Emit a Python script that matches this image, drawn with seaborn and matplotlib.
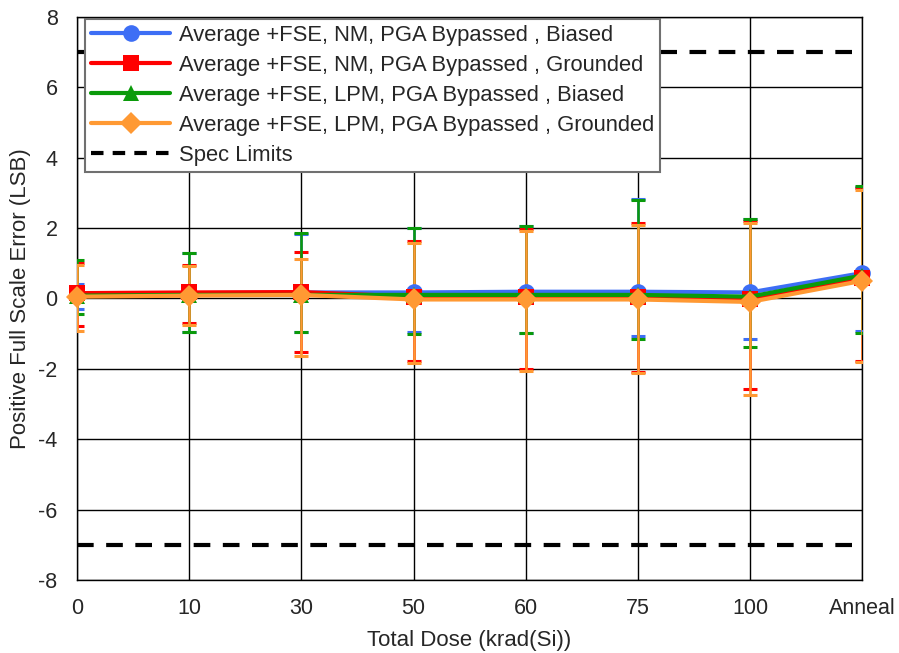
import matplotlib
matplotlib.use("Agg")
import matplotlib.pyplot as plt
import seaborn as sns
import numpy as np
import pandas as pd
from matplotlib.lines import Line2D

categories = ["0", "10", "30", "50", "60", "75", "100", "Anneal"]
series_names = [
    "Average +FSE, NM, PGA Bypassed , Biased",
    "Average +FSE, NM, PGA Bypassed , Grounded",
    "Average +FSE, LPM, PGA Bypassed , Biased",
    "Average +FSE, LPM, PGA Bypassed , Grounded",
]
blue_mean = [0.12, 0.15, 0.17, 0.17, 0.19, 0.19, 0.17, 0.72]
red_mean = [0.15, 0.17, 0.18, 0.05, 0.05, 0.05, -0.02, 0.58]
green_mean = [0.08, 0.10, 0.10, 0.10, 0.10, 0.10, 0.05, 0.65]
orange_mean = [0.05, 0.08, 0.10, -0.03, -0.03, -0.03, -0.10, 0.50]

blue_max = [0.40, 1.30, 1.83, 1.99, 2.05, 2.82, 2.27, 3.18]
red_max = [1.00, 0.95, 1.31, 1.63, 1.97, 2.13, 2.20, 3.13]
green_max = [1.09, 1.28, 1.85, 1.99, 2.07, 2.80, 2.25, 3.20]
orange_max = [0.95, 0.93, 1.13, 1.58, 1.92, 2.09, 2.14, 3.08]

blue_min = [-0.31, -0.96, -0.96, -0.96, -0.97, -1.06, -1.15, -0.94]
red_min = [-0.78, -0.70, -1.53, -1.78, -2.01, -2.08, -2.57, -1.79]
green_min = [-0.44, -0.96, -0.96, -1.02, -0.97, -1.15, -1.37, -0.97]
orange_min = [-0.92, -0.75, -1.65, -1.84, -2.05, -2.13, -2.74, -1.82]

spec_limits = [7, -7]
y_ticks = [-8, -6, -4, -2, 0, 2, 4, 6, 8]

colors = ["#3d6ef5", "#ff0000", "#0a9a0a", "#ff9933"]
markers = ["o", "s", "^", "D"]
marker_sizes = [12, 12, 12, 11]

means = [blue_mean, red_mean, green_mean, orange_mean]
maxs = [blue_max, red_max, green_max, orange_max]
mins = [blue_min, red_min, green_min, orange_min]

pos = np.arange(len(categories))
rows = []
for name, m in zip(series_names, means):
    for p, v in zip(pos, m):
        rows.append({"pos": p, "val": v, "series": name})
df = pd.DataFrame(rows)

sns.set_style("white")
plt.rcParams["font.family"] = ["Liberation Sans", "DejaVu Sans"]

fig = plt.figure(figsize=(8.99, 6.53), dpi=100)
ax = fig.add_axes([0.0857, 0.112, 0.8733, 0.862])

# error bars
for i in range(4):
    m = np.array(means[i])
    lo = m - np.array(mins[i])
    hi = np.array(maxs[i]) - m
    ax.errorbar(pos, m, yerr=[lo, hi], fmt="none", ecolor=colors[i],
                elinewidth=1.8, capsize=5, capthick=2.2, zorder=3 + i)

sns.lineplot(data=df, x="pos", y="val", hue="series", style="series",
             hue_order=series_names, style_order=series_names,
             palette=colors, markers=markers, dashes=False,
             linewidth=3, markersize=12, markeredgewidth=0, ax=ax,
             zorder=10, legend=False)

for i, line in enumerate(ax.get_lines()[-4:]):
    line.set_markersize(marker_sizes[i])
    line.set_clip_on(False)

ax.axhline(spec_limits[0], color="black", ls=(0, (4, 3)), lw=3, zorder=2)
ax.axhline(spec_limits[1], color="black", ls=(0, (4, 3)), lw=3, zorder=2)

ax.set_xlim(0, len(categories) - 1)
ax.set_ylim(-8, 8)
ax.set_xticks(pos)
ax.set_xticklabels(categories)
ax.set_yticks(y_ticks)
ax.set_yticklabels([str(t) for t in y_ticks])
ax.tick_params(axis="both", labelsize=15.5, length=0)
ax.tick_params(axis="x", pad=13)
ax.tick_params(axis="y", pad=14)
ax.grid(True, color="black", lw=1)
for s in ax.spines.values():
    s.set_color("black")
    s.set_linewidth(1)

ax.set_xlabel("Total Dose (krad(Si))", fontsize=16, labelpad=8)
ax.set_ylabel("Positive Full Scale Error (LSB)", fontsize=16, labelpad=5)

spec_handle = Line2D([0], [0], color="black", ls=(0, (3, 2.2)), lw=3)
leg_handles = []
for i in range(4):
    leg_handles.append(Line2D([0], [0], color=colors[i], marker=markers[i],
                              lw=3, markersize=marker_sizes[i], markeredgewidth=0))
leg = ax.legend(leg_handles + [spec_handle], series_names + ["Spec Limits"],
                loc="upper left", bbox_to_anchor=(0.010, 0.997), fontsize=15.8,
                frameon=True, fancybox=False, edgecolor="#707070",
                framealpha=1, handlelength=3.6, borderpad=0.28,
                labelspacing=0.41, handletextpad=0.4, borderaxespad=0)
leg.get_frame().set_linewidth(1.5)
leg.set_zorder(20)

fig.savefig("out.png", dpi=100)
